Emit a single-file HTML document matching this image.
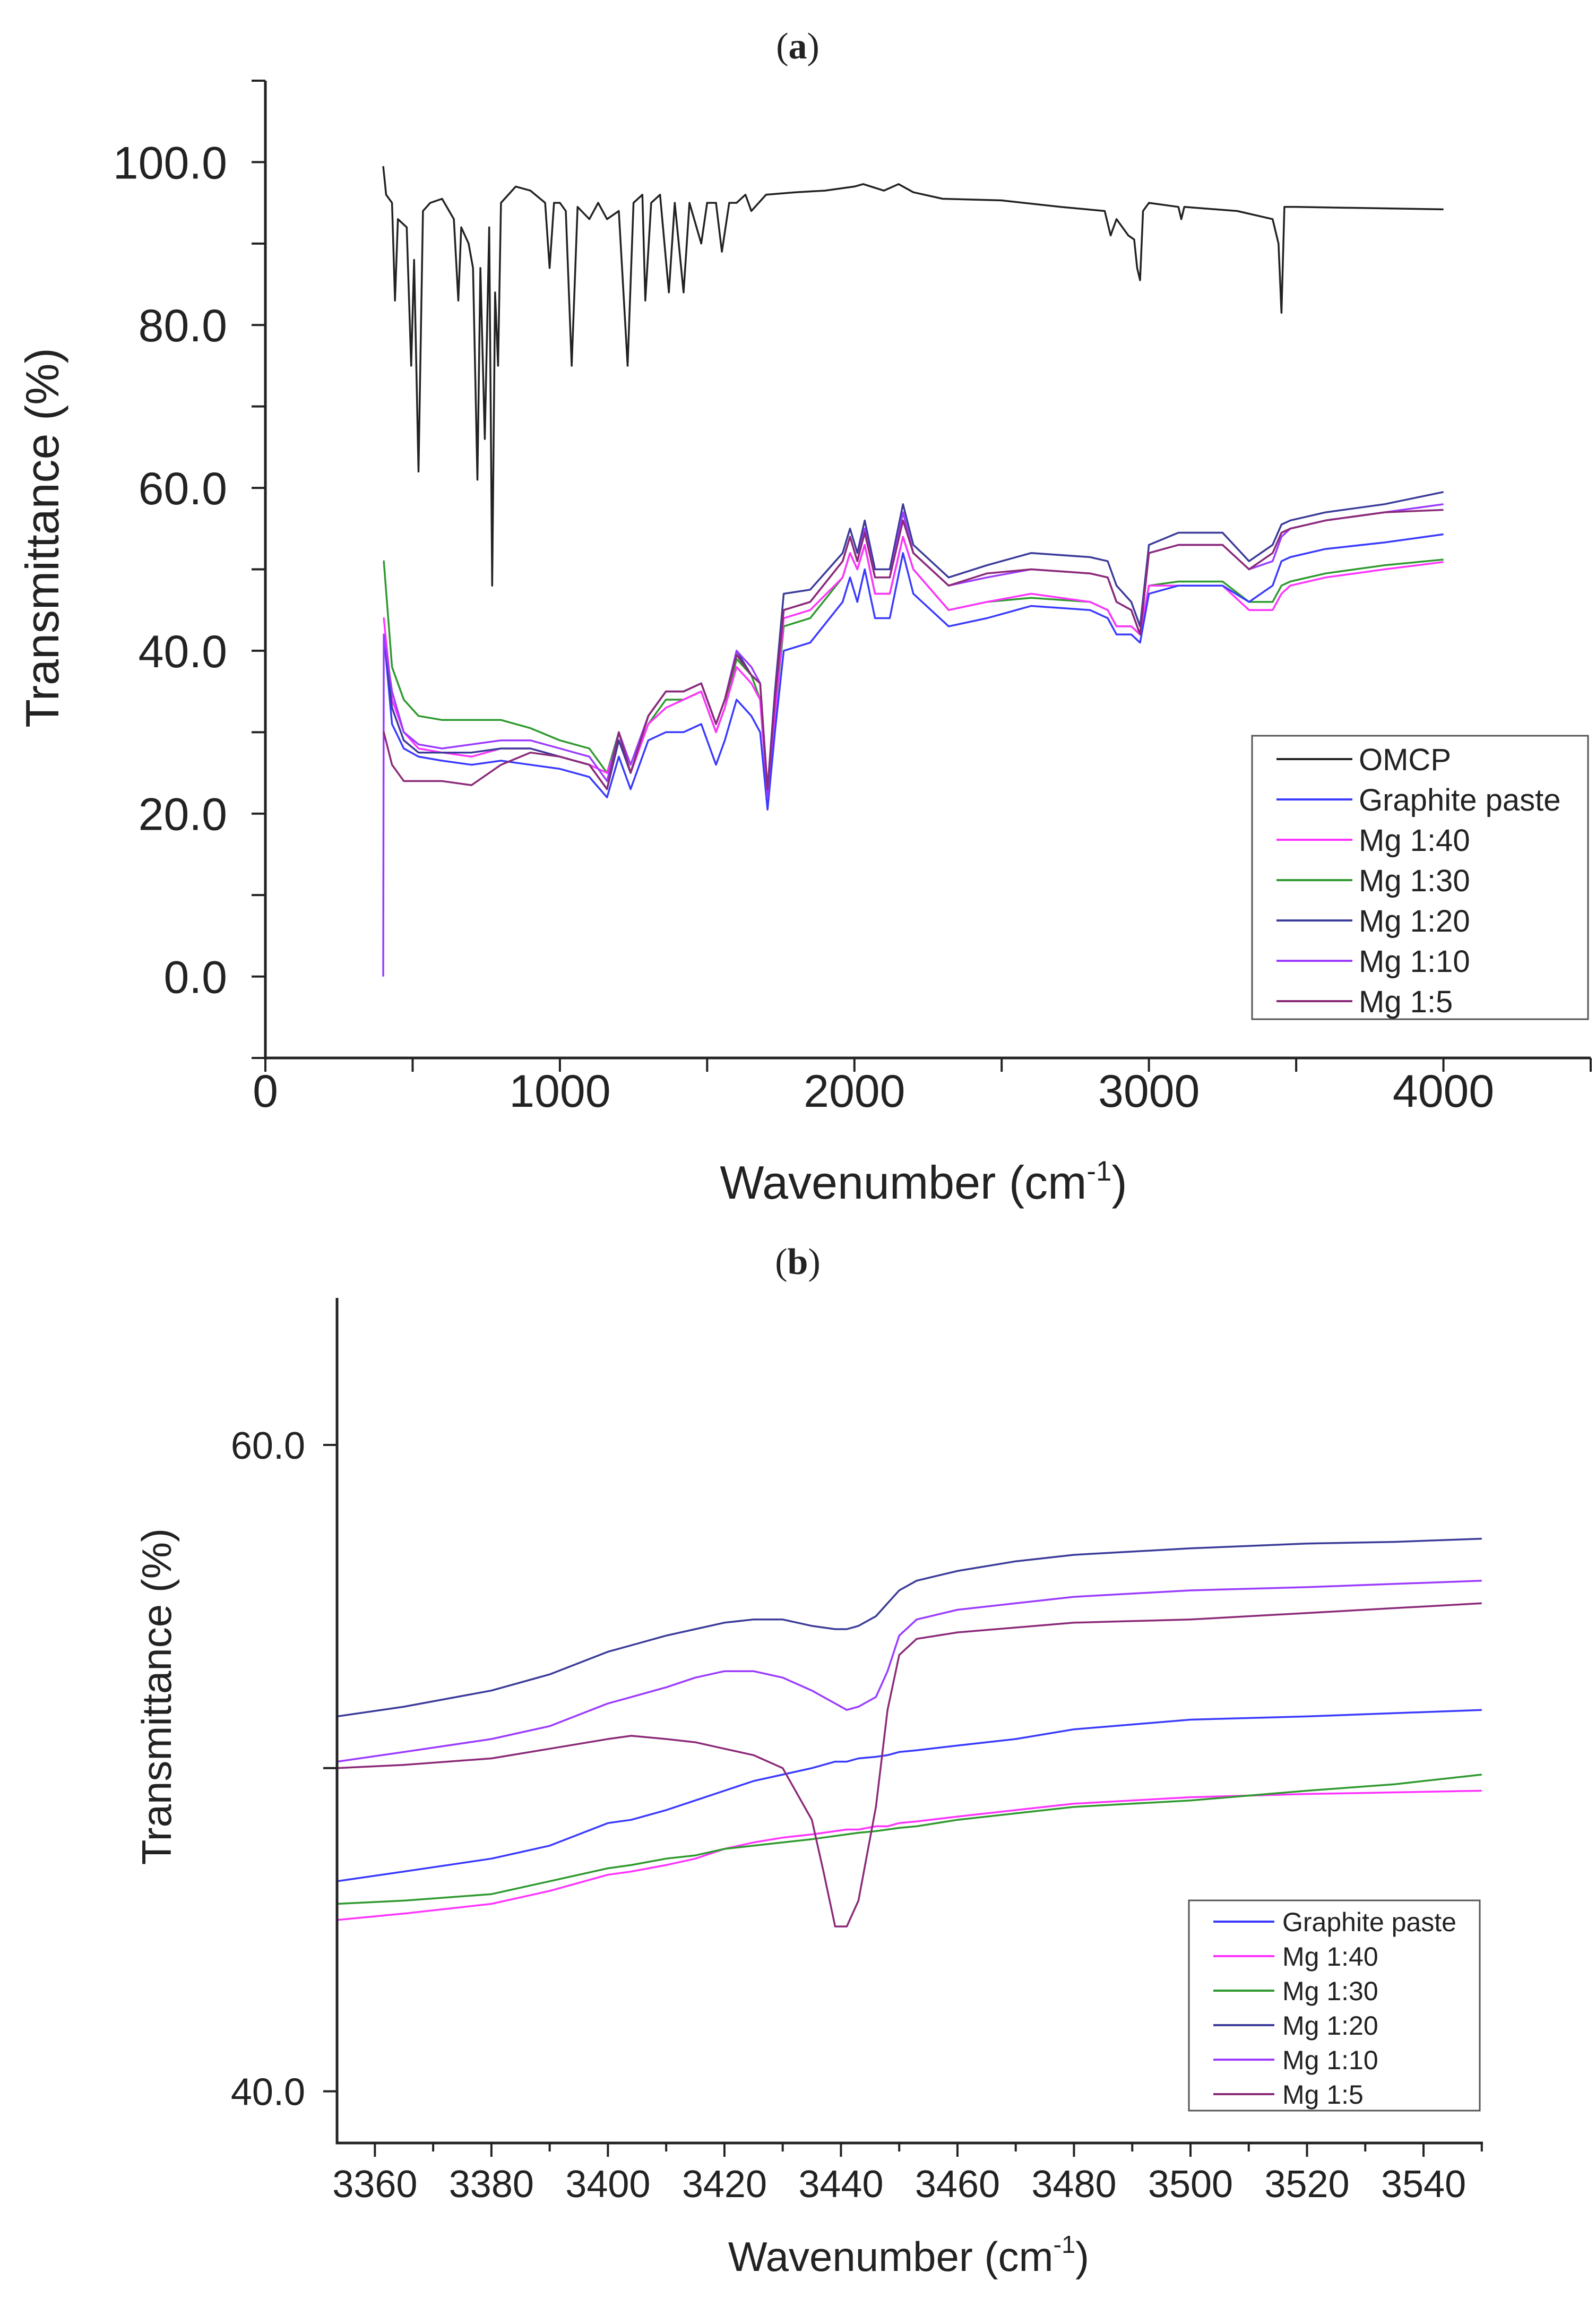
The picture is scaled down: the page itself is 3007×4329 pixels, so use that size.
<!DOCTYPE html>
<html><head><meta charset="utf-8"><style>
html,body{margin:0;padding:0;background:#fff}
svg{display:block}
text{font-family:"Liberation Sans",sans-serif;fill:#222}
</style></head><body>
<svg id="chart" width="3007" height="4329" viewBox="0 0 3007 4329" xmlns="http://www.w3.org/2000/svg">
<text x="1503" y="110" text-anchor="middle" style="font-family:'Liberation Serif',serif;font-size:70px">(<tspan font-weight="bold">a</tspan>)</text>
<text x="1503" y="2400" text-anchor="middle" style="font-family:'Liberation Serif',serif;font-size:70px">(<tspan font-weight="bold">b</tspan>)</text>
<g id="pa"></g>
<g id="pb"></g>
</svg>
<script>
// ---------- Panel (a) data ----------
const omcpX = [400,410,430,440,450,480,495,505,520,535,560,600,640,655,665,690,705,720,730,745,760,770,780,790,800,850,900,950,965,980,1000,1020,1040,1060,1100,1130,1160,1200,1230,1250,1280,1290,1310,1340,1370,1390,1420,1440,1480,1500,1530,1550,1575,1600,1630,1650,1700,1800,1900,2000,2030,2100,2150,2200,2300,2500,2700,2850,2870,2890,2930,2950,2960,2970,2980,3000,3100,3110,3120,3300,3420,3440,3450,3460,3500,4000];
const omcpY = [99.5,96,95,83,93,92,75,88,62,94,95,95.5,93,83,92,90,87,61,87,66,92,48,84,75,95,97,96.5,95,87,95,95,94,75,94.5,93,95,93,94,75,95,96,83,95,96,84,95,84,95,90,95,95,89,95,95,96,94,96,96.3,96.5,97,97.3,96.5,97.3,96.3,95.5,95.3,94.5,94,91,93,91,90.5,87,85.5,94,95,94.5,93,94.5,94,93,90,81.5,94.5,94.5,94.2];
const gridA = [400,402,430,470,520,600,700,800,900,1000,1100,1160,1200,1240,1300,1360,1420,1480,1530,1560,1600,1650,1680,1705,1730,1760,1850,1960,1985,2010,2035,2070,2120,2165,2200,2320,2450,2600,2800,2860,2890,2940,2970,3000,3100,3250,3340,3420,3450,3480,3600,3800,4000];
const graphiteA = [42,42,31,28,27,26.5,26,26.5,26,25.5,24.5,22,27,23,29,30,30,31,26,29,34,32,30,20.5,30,40,41,46,49,46,50,44,44,52,47,43,44,45.5,45,44,42,42,41,47,48,48,46,48,51,51.5,52.5,53.3,54.3];
const mg40A = [44,44,34,30,28,27.5,27,28,28,27,26,25,29,25,31,33,34,35,30,33,38,36,34,22,32,44,45,49,52,50,53,47,47,54,50,45,46,47,46,45,43,43,42,48,48,48,45,45,47,48,49,50,50.9];
const mg30A = [51,51,38,34,32,31.5,31.5,31.5,30.5,29,28,25,30,25,31,34,34,35,30,33,39,37,34,22,32,43,44,49,52,50,53,47,47,54,50,45,46,46.5,46,45,43,43,42,48,48.5,48.5,46,46,48,48.5,49.5,50.5,51.2];
const mg20A = [42,42,33,29,27.5,27.5,27.5,28,28,27,26,23,29,25,32,35,35,36,31,34,40,37,36,23,35,47,47.5,52,55,52,56,50,50,58,53,49,50.5,52,51.5,51,48,46,43,53,54.5,54.5,51,53,55.5,56,57,58,59.5];
const mg10A = [0,42,35,30,28.5,28,28.5,29,29,28,27,24,30,26,32,35,35,36,31,34,40,38,36,22,34,45,46,51,54,51,55,49,49,57,52,48,49,50,49.5,49,46,45,42,52,53,53,50,51,54,55,56,57,58];
const mg5A = [30,30,26,24,24,24,23.5,26,27.5,27,26,23,30,25,32,35,35,36,31,34,39.5,37,36,23,34,45,46,51,54,51,54.5,49,49,56,52,48,49.5,50,49.5,49,46,45,42,52,53,53,50,52,54.5,55,56,57,57.3];
const xTicksA = [0,500,1000,1500,2000,2500,3000,3500,4000,4500];
const xLabelsA = ["0","","1000","","2000","","3000","","4000",""];
const yTicksA = [-10,0,10,20,30,40,50,60,70,80,90,100,110];
const yLabelsA = ["","0.0","","20.0","","40.0","","60.0","","80.0","","100.0",""];
const legendA = ["OMCP","Graphite paste","Mg 1:40","Mg 1:30","Mg 1:20","Mg 1:10","Mg 1:5"];

// ---------- Panel (b) data ----------
const gridB = [3353.5,3365,3380,3390,3400,3404,3410,3415,3420,3425,3430,3435,3437,3439,3441,3443,3446,3448,3450,3453,3460,3470,3480,3490,3500,3520,3535,3550];
const graphiteB = [46.5,46.8,47.2,47.6,48.3,48.4,48.7,49.0,49.3,49.6,49.8,50.0,50.1,50.2,50.2,50.3,50.35,50.4,50.5,50.55,50.7,50.9,51.2,51.35,51.5,51.6,51.7,51.8];
const mg40B = [45.3,45.5,45.8,46.2,46.7,46.8,47.0,47.2,47.5,47.7,47.85,47.95,48.0,48.05,48.1,48.1,48.2,48.2,48.3,48.35,48.5,48.7,48.9,49.0,49.1,49.2,49.25,49.3];
const mg30B = [45.8,45.9,46.1,46.5,46.9,47.0,47.2,47.3,47.5,47.6,47.7,47.8,47.85,47.9,47.95,48.0,48.05,48.1,48.15,48.2,48.4,48.6,48.8,48.9,49.0,49.3,49.5,49.8];
const mg20B = [51.6,51.9,52.4,52.9,53.6,53.8,54.1,54.3,54.5,54.6,54.6,54.4,54.35,54.3,54.3,54.4,54.7,55.1,55.5,55.8,56.1,56.4,56.6,56.7,56.8,56.95,57.0,57.1];
const mg10B = [50.2,50.5,50.9,51.3,52.0,52.2,52.5,52.8,53.0,53.0,52.8,52.4,52.2,52.0,51.8,51.9,52.2,53.0,54.1,54.6,54.9,55.1,55.3,55.4,55.5,55.6,55.7,55.8];
const mg5B = [50.0,50.1,50.3,50.6,50.9,51.0,50.9,50.8,50.6,50.4,50.0,48.4,46.8,45.1,45.1,45.9,48.8,51.8,53.5,54.0,54.2,54.35,54.5,54.55,54.6,54.8,54.95,55.1];
const xTicksB = [3360,3370,3380,3390,3400,3410,3420,3430,3440,3450,3460,3470,3480,3490,3500,3510,3520,3530,3540,3550];
const xLabelsB = ["3360","","3380","","3400","","3420","","3440","","3460","","3480","","3500","","3520","","3540",""];
const yTicksB = [40,50,60];
const yLabelsB = ["40.0","","60.0"];
const legendB = ["Graphite paste","Mg 1:40","Mg 1:30","Mg 1:20","Mg 1:10","Mg 1:5"];

const COL = {"OMCP":"#222222","Graphite paste":"#3a3aff","Mg 1:40":"#ff33ff","Mg 1:30":"#2f9a2f","Mg 1:20":"#3b3b9a","Mg 1:10":"#9b3bff","Mg 1:5":"#8b2a78"};
const NS = "http://www.w3.org/2000/svg";
function mk(parent, tag, attrs, txt){
  const e = document.createElementNS(NS, tag);
  for (const k in attrs) e.setAttribute(k, attrs[k]);
  if (txt !== undefined) e.textContent = txt;
  parent.appendChild(e);
  return e;
}
function slug(s){return s.toLowerCase().replace(/[^a-z0-9]+/g,'-').replace(/-$/,'');}

function drawPanel(g, cfg){
  const sx = v => cfg.L + (v - cfg.x0)/(cfg.x1 - cfg.x0)*(cfg.R - cfg.L);
  const sy = v => cfg.B - (v - cfg.y0)/(cfg.y1 - cfg.y0)*(cfg.B - cfg.T);
  cfg.series.forEach(s => {
    let d = "";
    s.x.forEach((xv,i) => { d += (i ? "L" : "M") + sx(xv).toFixed(1) + "," + sy(s.y[i]).toFixed(1); });
    const p = mk(g, "path", {d:d, fill:"none", stroke:COL[s.name], "stroke-width":3.5, "stroke-linejoin":"round"});
    
    
  });
  const ax = mk(g, "path", {d:`M${cfg.L},${cfg.T}V${cfg.B}H${cfg.R}`, fill:"none", stroke:"#222", "stroke-width":5});
  
  
  cfg.yt.forEach((v,i) => {
    const y = sy(v);
    const t = mk(g, "line", {x1:cfg.L-26, x2:cfg.L, y1:y, y2:y, stroke:"#222", "stroke-width":4});
    
    
    if (cfg.yl[i]) {
      const l = mk(g, "text", {x:cfg.L-cfg.ylOff, y:y+cfg.fs*0.36, "text-anchor":"end", "font-size":cfg.fs}, cfg.yl[i]);
      
      
    }
  });
  cfg.xt.forEach((v,i) => {
    const x = sx(v);
    const len = cfg.xl[i] ? 26 : (cfg.minorLen || 26);
    const t = mk(g, "line", {x1:x, x2:x, y1:cfg.B, y2:cfg.B+len, stroke:"#222", "stroke-width":4});
    
    
    if (cfg.xl[i]) {
      const l = mk(g, "text", {x:x, y:cfg.B+cfg.xlOff, "text-anchor":"middle", "font-size":cfg.fs}, cfg.xl[i]);
      
      
    }
  });
  const yt = mk(g, "text", {x:0, y:0, "text-anchor":"middle", "font-size":cfg.tfs, transform:`translate(${cfg.ytX},${cfg.ytY}) rotate(-90)`}, "Transmittance (%)");
  
  
  const xt = mk(g, "text", {x:cfg.xtX, y:cfg.xtY, "text-anchor":"middle", "font-size":cfg.tfs}, "Wavenumber (cm");
  
  
  mk(xt, "tspan", {dy:-34, "font-size":cfg.tfs*0.6}, "-1");
  mk(xt, "tspan", {dy:34}, ")");
  const lg = mk(g, "g", {});
  
  
  const b = cfg.leg;
  mk(lg, "rect", {x:b.x, y:b.y, width:b.w, height:b.h, fill:"#fff", stroke:"#555", "stroke-width":3});
  b.names.forEach((n,i) => {
    const y = b.y0 + i*b.dy;
    const e = mk(lg, "g", {});
    
    
    mk(e, "line", {x1:b.lx0, x2:b.lx1, y1:y, y2:y, stroke:COL[n], "stroke-width":4});
    mk(e, "text", {x:b.tx, y:y + b.fs*0.36, "font-size":b.fs}, n);
  });
}

drawPanel(document.getElementById("pa"), {
  L:500, R:2997, T:152, B:1993, x0:0, x1:4500, y0:-10, y1:110,
  series:[
    {name:"OMCP", x:omcpX, y:omcpY},
    {name:"Mg 1:30", x:gridA, y:mg30A},
    {name:"Mg 1:40", x:gridA, y:mg40A},
    {name:"Graphite paste", x:gridA, y:graphiteA},
    {name:"Mg 1:20", x:gridA, y:mg20A},
    {name:"Mg 1:10", x:gridA, y:mg10A},
    {name:"Mg 1:5", x:gridA, y:mg5A}
  ],
  xt:xTicksA, xl:xLabelsA, yt:yTicksA, yl:yLabelsA,
  fs:86, ylOff:72, xlOff:92, tfs:88,
  ytX:110, ytY:1013, xtX:1740, xtY:2258,
  leg:{x:2359, y:1386, w:633, h:534, names:legendA, y0:1430, dy:76, lx0:2405, lx1:2548, tx:2560, fs:58}
});
drawPanel(document.getElementById("pb"), {
  L:635, R:2794, T:2445, B:4037, x0:3353.5, x1:3550.2, y0:38.4, y1:64.55,
  series:[
    {name:"Graphite paste", x:gridB, y:graphiteB},
    {name:"Mg 1:40", x:gridB, y:mg40B},
    {name:"Mg 1:30", x:gridB, y:mg30B},
    {name:"Mg 1:20", x:gridB, y:mg20B},
    {name:"Mg 1:10", x:gridB, y:mg10B},
    {name:"Mg 1:5", x:gridB, y:mg5B}
  ],
  xt:xTicksB, xl:xLabelsB, yt:yTicksB, yl:yLabelsB, minorLen:16,
  fs:72, ylOff:60, xlOff:102, tfs:78,
  ytX:322, ytY:3196, xtX:1712, xtY:4278,
  leg:{x:2240, y:3580, w:548, h:396, names:legendB, y0:3620, dy:65, lx0:2286, lx1:2401, tx:2416, fs:50}
});
</script>
</body></html>
